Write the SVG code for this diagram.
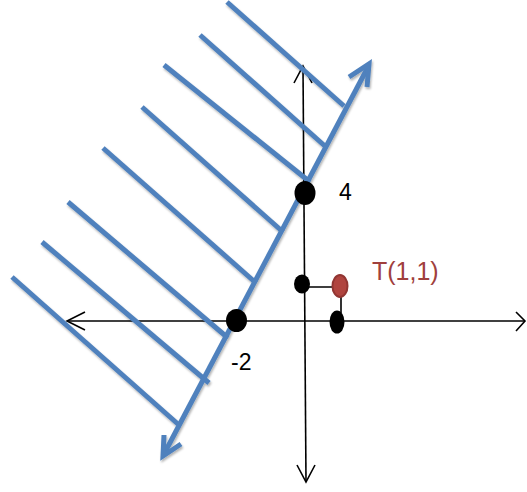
<svg xmlns="http://www.w3.org/2000/svg" width="527" height="492" viewBox="0 0 527 492">
  <style>
    .axis { stroke: #000; stroke-width: 1.6; fill: none; }
    .blue { stroke: #4F81BD; stroke-width: 5; fill: none; stroke-linecap: butt; }
    .dot { fill: #000; }
    .lbl { font-family: "Liberation Sans", Arial, sans-serif; font-size: 23px; fill: #000; }
    .tlbl { font-family: "Liberation Sans", Arial, sans-serif; font-size: 25px; fill: #A0403D; }
  </style>
  <defs>
    <filter id="shadow" x="-10%" y="-10%" width="120%" height="120%">
      <feDropShadow dx="1" dy="2" stdDeviation="1.2" flood-color="#000" flood-opacity="0.3"/>
    </filter>
  </defs>
  <rect width="527" height="492" fill="#fff"/>

  <g id="connectors">
    <!-- axes -->
    <line class="axis" x1="68" y1="321" x2="525" y2="321"/>
    <polyline class="axis" points="85,312 67,321 85,330"/>
    <polyline class="axis" points="516,312 525,321 516,331"/>
    <line class="axis" x1="303" y1="67" x2="306" y2="481"/>
    <polyline class="axis" points="294,83 303,66 312,83"/>
    <polyline class="axis" points="297,465 306,482 315,465"/>
    <!-- T projections -->
    <polyline class="axis" points="304,287 341,287 341,313"/>

    <g filter="url(#shadow)">
      <!-- hatch lines -->
      <line class="blue" x1="227" y1="2" x2="344" y2="106"/>
      <line class="blue" x1="200" y1="35" x2="326" y2="147"/>
      <line class="blue" x1="164" y1="65" x2="310" y2="182"/>
      <line class="blue" x1="142" y1="107" x2="283" y2="232"/>
      <line class="blue" x1="103" y1="148" x2="256" y2="283"/>
      <line class="blue" x1="68" y1="202" x2="228" y2="338"/>
      <line class="blue" x1="42" y1="242" x2="209" y2="383"/>
      <line class="blue" x1="12" y1="277" x2="179" y2="425"/>
      <!-- boundary line with arrows -->
      <line class="blue" x1="368" y1="67" x2="164" y2="454"/>
      <polyline class="blue" points="349,77 369,64 367,87" stroke-linejoin="miter"/>
      <polyline class="blue" points="164,435 163,456 181,444" stroke-linejoin="miter"/>
    </g>
  </g>

  <g id="node-y4">
    <ellipse class="dot" cx="305" cy="193" rx="10.5" ry="12"/>
    <text class="lbl" x="339" y="200">4</text>
  </g>
  <g id="node-xm2">
    <ellipse class="dot" cx="236.5" cy="320.5" rx="10.5" ry="11.5"/>
    <text class="lbl" x="231" y="370">-2</text>
  </g>
  <g id="node-y1">
    <ellipse class="dot" cx="302" cy="284" rx="8" ry="9.5"/>
  </g>
  <g id="node-x1">
    <ellipse class="dot" cx="337" cy="322" rx="7.5" ry="11.5"/>
  </g>
  <g id="node-T">
    <ellipse cx="340" cy="286" rx="7.5" ry="11" fill="#B0443F" stroke="#923532" stroke-width="2"/>
    <text class="tlbl" x="372" y="280">T(1,1)</text>
  </g>
</svg>
